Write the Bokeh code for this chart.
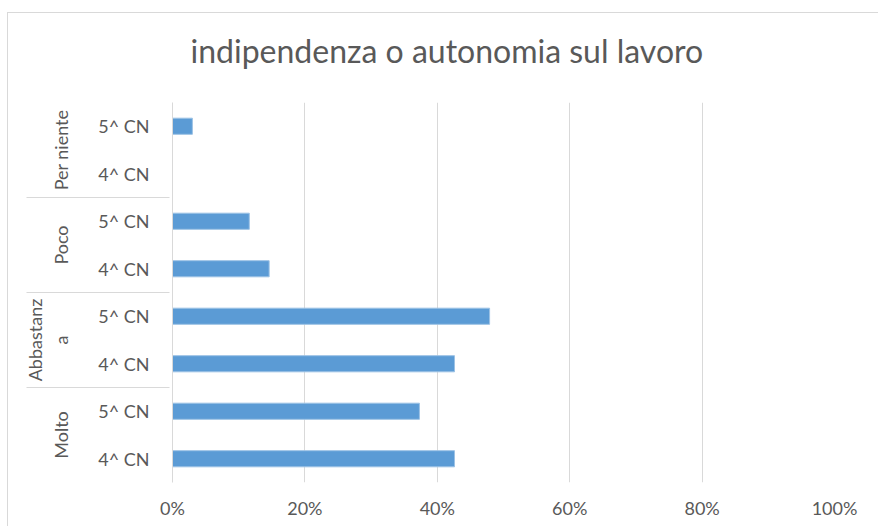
from bokeh.plotting import figure
from bokeh.models import FactorRange, Range1d, FixedTicker, NumeralTickFormatter, ColumnDataSource, Title
from bokeh.embed import file_html
from bokeh.resources import INLINE

# ---- data ----
groups = ["Molto", "Abbastanz\na", "Poco", "Per niente"]   # bottom -> top (as wrapped in the source)
classes = ["4^ CN", "5^ CN"]
values_4cn = [42.6, 42.6, 14.6, 0.0]    # percent
values_5cn = [37.3, 47.9, 11.6, 3.0]    # percent
x_ticks = [0, 0.2, 0.4, 0.6, 0.8, 1.0]
title_text = "indipendenza o autonomia sul lavoro"

factors = []
vals = []
for g, v4, v5 in zip(groups, values_4cn, values_5cn):
    factors.append((g, classes[0])); vals.append(v4 / 100.0)
    factors.append((g, classes[1])); vals.append(v5 / 100.0)

src = ColumnDataSource(dict(cat=factors, val=vals))

FONT = "Lato"
GREY = "#595959"
LINE = "#d9d9d9"

p = figure(width=871, height=514, output_backend="svg", toolbar_location=None,
           y_range=FactorRange(*factors, group_padding=0, factor_padding=0, range_padding=0),
           x_range=Range1d(0, 1), title=title_text,
           min_border_left=164, min_border_right=45, min_border_top=89, min_border_bottom=45)

p.hbar(y="cat", right="val", height=0.34, source=src,
       fill_color="#5b9bd5", line_color="#9cc2e5", line_width=1)

# spacer between title and plot area
p.add_layout(Title(text=" ", text_font_size="1px", standoff=30), "above")

p.title.text_font = FONT
p.title.text_font_size = "32px"
p.title.text_font_style = "normal"
p.title.text_color = GREY
p.title.align = "left"
p.title.offset = 18
p.title.standoff = 0

p.outline_line_color = None
p.background_fill_color = "white"
p.border_fill_color = "white"

p.xaxis.ticker = FixedTicker(ticks=x_ticks)
p.xaxis.formatter = NumeralTickFormatter(format="0%")
p.xaxis.axis_line_color = None
p.xaxis.major_tick_line_color = None
p.xaxis.minor_tick_line_color = None
p.xaxis.major_tick_out = 0
p.xaxis.major_tick_in = 0
p.xaxis.major_label_text_font = FONT
p.xaxis.major_label_text_font_size = "18px"
p.xaxis.major_label_text_color = GREY
p.xaxis.major_label_standoff = 14

p.xgrid.ticker = FixedTicker(ticks=x_ticks)
p.xgrid.grid_line_color = LINE
p.ygrid.grid_line_color = None

ya = p.yaxis[0]
ya.axis_line_color = LINE
ya.major_tick_line_color = None
ya.minor_tick_line_color = None
ya.major_tick_out = 0
ya.major_tick_in = 0
ya.major_label_text_font = FONT
ya.major_label_text_font_size = "18px"
ya.major_label_text_color = GREY
ya.major_label_standoff = 23
ya.group_text_font = FONT
ya.group_text_font_size = "18px"
ya.group_text_font_style = "normal"
ya.group_text_color = GREY
ya.group_label_orientation = "parallel"
ya.separator_line_color = LINE
ya.separator_line_width = 1

p.styles = {"margin-left": "7px", "margin-top": "12px",
            "border-left": "1px solid #d9d9d9", "border-top": "1px solid #d9d9d9"}

open("out.html", "w").write(file_html(p, INLINE))
